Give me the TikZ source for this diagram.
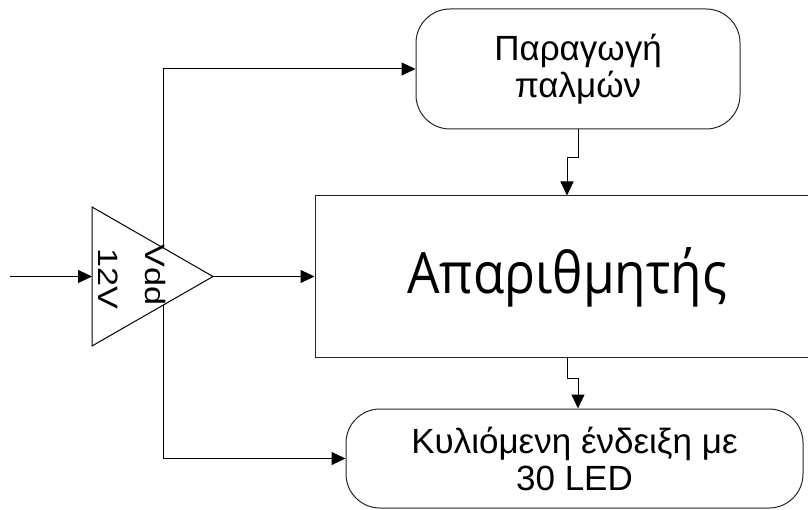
\documentclass[tikz,border=0pt]{standalone}
\usepackage{fontspec}
\usepackage{graphicx}
\setmainfont{Liberation Sans}
\newfontfamily\countfont{Open Sans}
\usetikzlibrary{arrows.meta,calc}
\tikzset{
  wire/.style={line width=1pt, draw=black},
  arr/.style={wire, -{Triangle[length=14pt,width=13pt]}},
  blk/.style={draw=black!85, line width=1pt, inner sep=0pt},
  roundbox/.style={blk, rounded corners=34pt, align=center,
    font=\fontsize{35}{37}\selectfont},
  rotlabel/.style={rotate=-90, inner sep=0pt, font=\fontsize{28}{28}\selectfont}
}
\begin{document}
\begin{tikzpicture}[x=1pt,y=-1pt]
\useasboundingbox (0,0) rectangle (808,510);
% blocks
\node[roundbox, minimum width=324pt, minimum height=120pt] (top) at (578,69) {Παραγωγή\\παλμών};
\node[blk, minimum width=504pt, minimum height=161pt] (main) at (567,276.5) {};
\node[font=\countfont\fontsize{57}{60}\selectfont] (maintext) at (567,277) {\scalebox{0.9}[1]{Απαριθμητής}};
\node[roundbox, minimum width=457pt, minimum height=99pt] (bot) at (574.5,458.5) {Κυλιόμενη ένδειξη με\\30 LED};
% amplifier triangle
\coordinate (ta) at (92,207);
\coordinate (tb) at (92,346);
\coordinate (tip) at (213,276.5);
\draw[wire] (ta) -- (tip) -- (tb) -- cycle;
\coordinate (tw) at ($(ta)!0.5!(tb)$);
\coordinate (vt) at ($(ta)!0.587!(tip)$);
\coordinate (vb) at ($(tb)!0.587!(tip)$);
\node[rotlabel] (vdd) at (155.5,275) {\scalebox{1.22}[1]{Vdd}};
\node[rotlabel] (v12) at (108.5,278.5) {\scalebox{1.22}[1]{12V}};
% connectors
\coordinate (in) at (10,276.5);
\draw[arr] (in) -- (tw);
\draw[arr] (tip) -- (main.west);
\draw[arr] (vt) |- (top.west);
\draw[arr] (vb) |- (bot.west);
\draw[arr] (top.south) -- ++(0,28) -| (main.north);
\draw[arr] (main.south) -- ++(0,21) -| (bot.north -| top.south);
\end{tikzpicture}
\end{document}
